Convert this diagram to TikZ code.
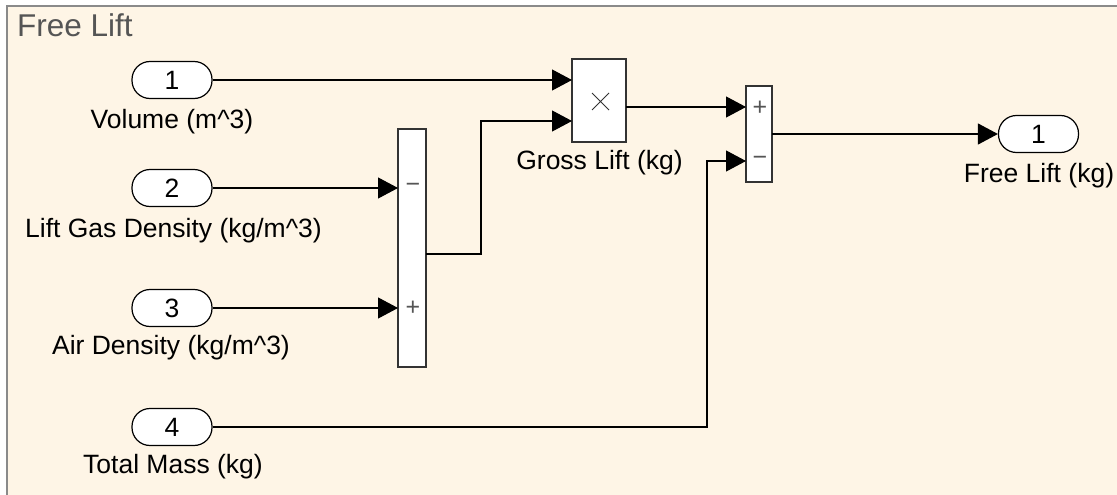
\documentclass[tikz,border=0pt]{standalone}
\usepackage{fontspec}
\setmainfont{Liberation Sans}
\usetikzlibrary{arrows.meta}
\definecolor{bgcream}{HTML}{FEF5E6}
\definecolor{framegray}{HTML}{8A8A8A}
\definecolor{titlegray}{HTML}{555555}
\definecolor{blockedge}{HTML}{333333}
\definecolor{signgray}{HTML}{555555}
\tikzset{
  port/.style={draw=black, line width=1.2pt, fill=white, rectangle, rounded corners=18pt,
    minimum width=80pt, minimum height=37pt, inner sep=0pt,
    font=\fontsize{26.5}{30}\selectfont},
  lbl/.style={inner sep=0pt, font=\fontsize{26.5}{30}\selectfont},
  blk/.style={draw=blockedge, line width=1.5pt, fill=white, rectangle, inner sep=0pt},
  sgn/.style={inner sep=0pt, text=signgray, font=\fontsize{25}{28}\selectfont},
  sig/.style={draw=black, line width=1.1pt, -{Triangle[length=20pt,width=21pt]}},
  wire/.style={draw=black, line width=1.1pt}
}
\begin{document}
\begin{tikzpicture}[x=1pt,y=-1pt]
\useasboundingbox (0,0) rectangle (1117,495);
\fill[white] (0,0) rectangle (1117,495);
\fill[bgcream] (7,6) rectangle (1117,495);
\draw[framegray, line width=2pt] (7,495) -- (7,6) -- (1117,6);
\node[anchor=base west, inner sep=0pt, text=titlegray, font=\fontsize{31.5}{36}\selectfont] (title) at (17,37) {Free Lift};

% inports
\node[port] (in1) at (172,80) {1};
\node[port] (in2) at (172,188) {2};
\node[port] (in3) at (172,308) {3};
\node[port] (in4) at (172,427) {4};
\node[lbl] (l1) at (172,122) {Volume (m\^{}3)};
\node[lbl] (l2) at (173.5,231) {Lift Gas Density (kg/m\^{}3)};
\node[lbl] (l3) at (171,348) {Air Density (kg/m\^{}3)};
\node[lbl] (l4) at (173,467) {Total Mass (kg)};

% outport
\node[port] (out1) at (1038.5,134) {1};
\node[lbl] (lo) at (1039,176) {Free Lift (kg)};

% blocks
\node[blk, minimum width=54pt, minimum height=83pt] (prod) at (599,100.5) {};
\draw[blockedge, line width=0.8pt] (592,93) -- (609,110) (592,110) -- (609,93);
\node[lbl] (lg) at (599.5,163) {Gross Lift (kg)};

\node[blk, minimum width=28pt, minimum height=238pt] (sum1) at (412,248) {};
\node[sgn] (s1a) at (413,188) {−};
\node[sgn] (s1b) at (413,308) {+};

\node[blk, minimum width=26pt, minimum height=96pt] (sum2) at (759,134) {};
\node[sgn] (s2a) at (760,108) {+};
\node[sgn] (s2b) at (760,161) {−};

% port coordinates
\coordinate (p1a) at (572,80);
\coordinate (p1b) at (572,121);
\coordinate (p1o) at (626,107);
\coordinate (s1ia) at (398,188);
\coordinate (s1ib) at (398,308);
\coordinate (s1o) at (426,254);
\coordinate (s2ia) at (746,107);
\coordinate (s2ib) at (746,161);
\coordinate (s2o) at (772,134);

% connectors
\draw[sig] (in1.east) -- (p1a);
\draw[sig] (in2.east) -- (s1ia);
\draw[sig] (in3.east) -- (s1ib);
\draw[sig] (s1o) -- (481,254) -- (481,121) -- (p1b);
\draw[sig] (p1o) -- (s2ia);
\draw[sig] (in4.east) -- (707,427) -- (707,161) -- (s2ib);
\draw[sig] (s2o) -- (out1.west);
\end{tikzpicture}
\end{document}
